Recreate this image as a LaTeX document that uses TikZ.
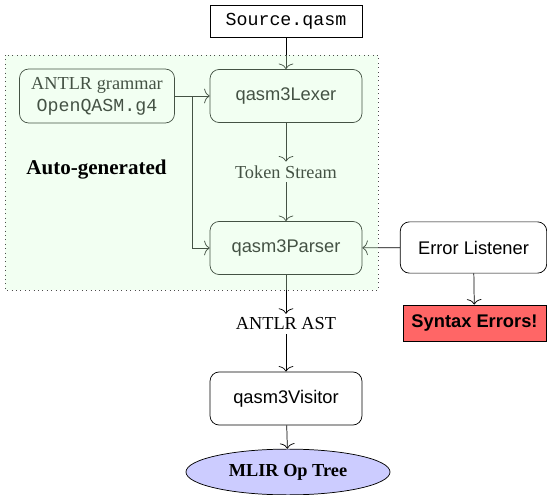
\documentclass[tikz,border=0pt]{standalone}
\usepackage{fontspec}
\setmainfont{Liberation Serif}
\setsansfont{Liberation Sans}
\setmonofont{Liberation Mono}
\usetikzlibrary{shapes.geometric,arrows.meta}
\begin{document}
\begin{tikzpicture}[x=0.5464pt,y=-0.5464pt,
  proc/.style={draw, rounded corners=5pt, minimum width=83pt, minimum height=29pt, inner sep=2pt, font=\sffamily},
  srcbox/.style={draw, minimum width=83pt, minimum height=17.5pt, inner sep=2pt, font=\ttfamily},
  errbox/.style={draw, fill=red!60, minimum width=78pt, minimum height=19.7pt, inner sep=2pt, font=\sffamily\bfseries},
  outell/.style={draw, ellipse, fill=blue!20, minimum width=111.5pt, minimum height=25pt, inner sep=1pt, font=\bfseries},
  plain/.style={inner sep=2pt},
  conn/.style={-{To[length=3pt,width=8pt]}}]
\useasboundingbox (0,0) rectangle (547,495);
\node[srcbox] (src) at (286,21) {Source.qasm};
\node[proc, minimum width=84.7pt, minimum height=29.5pt, font=\normalfont, align=center] (gram) at (97,96) {ANTLR grammar\\\texttt{OpenQASM.g4}};
\node[proc] (lex) at (286,96) {qasm3Lexer};
\node[plain] (tok) at (286,172) {Token Stream};
\node[proc] (par) at (286,248) {qasm3Parser};
\node[proc, minimum width=80pt, minimum height=28pt] (err) at (473.5,247.5) {Error Listener};
\node[errbox] (syn) at (474.5,323) {Syntax Errors!};
\node[plain] (ast) at (286,324) {ANTLR AST};
\node[proc] (vis) at (286,398.5) {qasm3Visitor};
\node[outell] (mlir) at (288,472) {MLIR Op Tree};
\coordinate (br) at (192,96);
\draw[conn] (src) -- (lex);
\draw[conn] (gram) -- (lex);
\draw[conn] (br) |- (par.west);
\draw[conn] (lex) -- (tok);
\draw[conn] (tok) -- (par);
\draw[conn] (err) -- (par);
\draw[conn] (err) -- (syn);
\draw[conn] (par) -- (ast);
\draw[conn] (ast) -- (vis);
\draw[conn] (vis) -- (mlir);
\draw[dotted, draw=black!70, fill=green!16, fill opacity=0.32] (5,55) rectangle (378,290);
\node[font=\fontsize{11.5}{14}\selectfont\bfseries] (auto) at (96.5,170) {Auto-generated};
\end{tikzpicture}
\end{document}
